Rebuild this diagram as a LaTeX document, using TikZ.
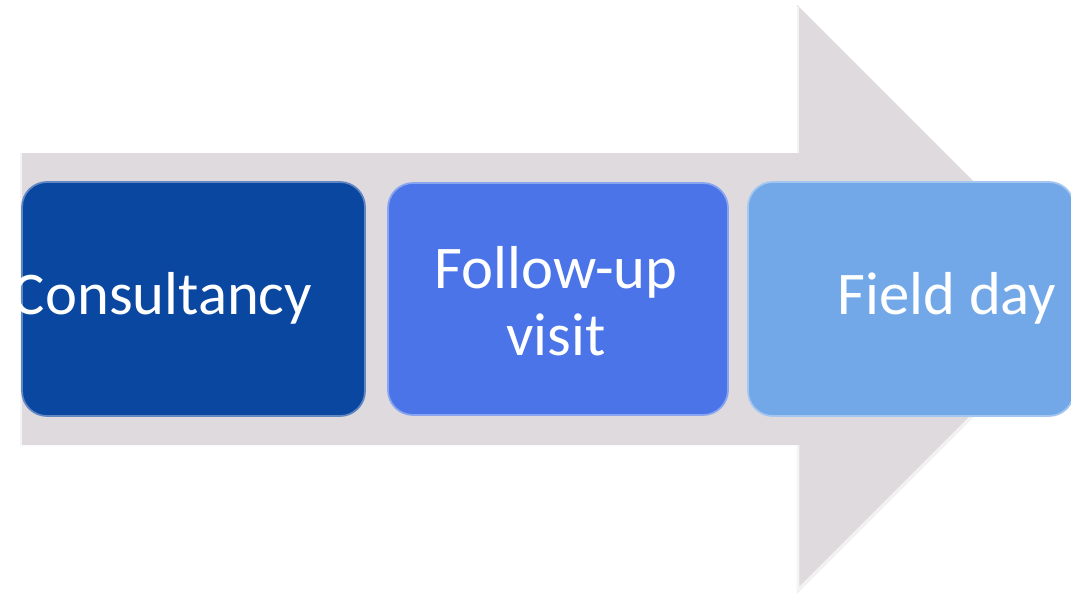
\documentclass[tikz,border=0pt]{standalone}
\usepackage{fontspec}
\setmainfont{Carlito}
\usetikzlibrary{calc}
\definecolor{arrowgrey}{HTML}{DEDADD}
\definecolor{stepone}{HTML}{0A47A0}
\definecolor{steptwo}{HTML}{4A74E8}
\definecolor{stepthree}{HTML}{72A8E8}
\tikzset{
  stepbox/.style={rounded corners=25*0.02cm, inner sep=0pt, draw=white!35!#1, line width=1pt, fill=#1},
  lbl/.style={text=white, font=\fontsize{34.5}{38}\selectfont, align=center, inner sep=0pt},
}

\begin{document}
\begin{tikzpicture}[x=0.02cm, y=-0.02cm]
  \useasboundingbox (0,0) rectangle (1071,592);
  \clip (0,0) rectangle (1071,592);

  % big grey arrow
  \fill[arrowgrey] (20,153) -- (797,153) -- (797,5) -- (1091,299)
    -- (797,593) -- (797,445) -- (20,445) -- cycle;
  \draw[white!70!arrowgrey, line width=1.5pt] (21,153) -- (21,445);
  \draw[white!70!arrowgrey, line width=1.5pt] (798,7) -- (798,153);
  \draw[white!70!arrowgrey, line width=1.5pt] (798,445) -- (798,590) -- (1000,388);

  % the three steps
  \node[stepbox=stepone, minimum width=343*0.02cm, minimum height=234*0.02cm]
    (consult) at (193.5,299) {};
  \node[stepbox=steptwo, minimum width=340*0.02cm, minimum height=232*0.02cm]
    (follow) at (558,299) {};
  \node[stepbox=stepthree, minimum width=326*0.02cm, minimum height=234*0.02cm]
    (field) at (911,299) {};

  \node[lbl] (consultlbl) at ([xshift=-31*0.02cm, yshift=1*0.02cm]consult.center) {Consultancy};
  \node[lbl] (followlbl) at ([xshift=-2*0.02cm, yshift=-2*0.02cm]follow.center) {Follow-up\\visit};
  \node[lbl] (fieldlbl) at ([xshift=36*0.02cm, yshift=1*0.02cm]field.center) {Field day};
\end{tikzpicture}
\end{document}
